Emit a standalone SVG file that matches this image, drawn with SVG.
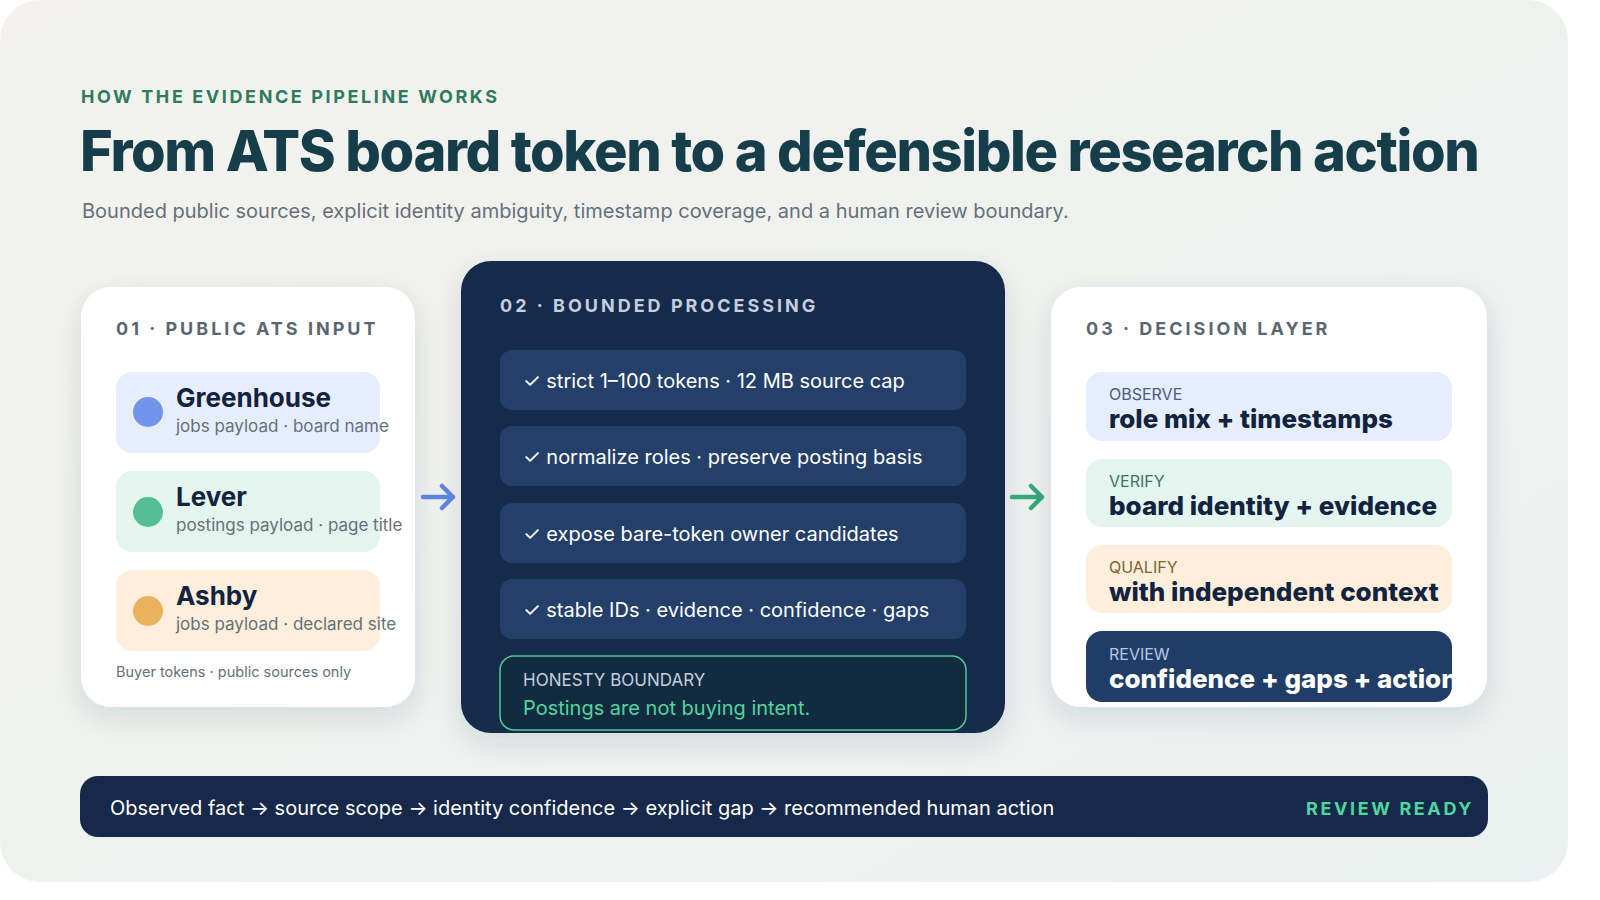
<svg xmlns="http://www.w3.org/2000/svg" width="1600" height="900" viewBox="0 0 1600 900">
<defs>
<linearGradient id="bg" x1="0" y1="0" x2="1" y2="1"><stop offset="0" stop-color="#f3f2ee"/><stop offset="1" stop-color="#ebf1f0"/></linearGradient>
<filter id="sh" x="-20%" y="-20%" width="140%" height="140%"><feDropShadow dx="0" dy="10" stdDeviation="14" flood-color="#1b2d45" flood-opacity="0.12"/></filter>
<clipPath id="c3"><rect x="1051" y="287" width="436" height="420" rx="30"/></clipPath>
</defs>
<style>
text{font-family:Inter,"Noto Sans","Liberation Sans",sans-serif}
.hd{font-size:18px;font-weight:700;letter-spacing:3px;fill:#5b6770}
.nm{font-size:26px;font-weight:700;fill:#12233f}
.sb{font-size:17px;fill:#66707a}
.pr{font-size:20px;fill:#ffffff}
.tg{font-size:16px}
.bd{font-size:26px;font-weight:800;fill:#12233f}
</style>
<rect x="0" y="0" width="1568" height="882" rx="40" fill="url(#bg)"/>
<text x="81" y="103" font-size="18" font-weight="700" letter-spacing="2.6" fill="#2f7b5f">HOW THE EVIDENCE PIPELINE WORKS</text>
<text x="80" y="171" font-size="56" font-weight="800" letter-spacing="-1.4" fill="#163d4a">From ATS board token to a defensible research action</text>
<text x="82" y="218" font-size="20" fill="#66707a">Bounded public sources, explicit identity ambiguity, timestamp coverage, and a human review boundary.</text>

<g id="card1">
<rect x="81" y="287" width="334" height="420" rx="30" fill="#ffffff" filter="url(#sh)"/>
<text x="116" y="335" class="hd">01 · PUBLIC ATS INPUT</text>
</g>
<g id="greenhouse"><rect x="116" y="372" width="264" height="81" rx="16" fill="#e6edfd"/><circle cx="148" cy="412" r="15" fill="#7394ec"/><text x="176" y="407" class="nm">Greenhouse</text><text x="176" y="432" class="sb">jobs payload · board name</text></g>
<g id="lever"><rect x="116" y="471" width="264" height="81" rx="16" fill="#e3f5ee"/><circle cx="148" cy="512" r="15" fill="#52c093"/><text x="176" y="506" class="nm">Lever</text><text x="176" y="531" class="sb">postings payload · page title</text></g>
<g id="ashby"><rect x="116" y="570" width="264" height="81" rx="16" fill="#fdefdb"/><circle cx="148" cy="611" r="15" fill="#ebb25d"/><text x="176" y="605" class="nm">Ashby</text><text x="176" y="630" class="sb">jobs payload · declared site</text></g>
<text x="116" y="677" font-size="14.5" fill="#66707a">Buyer tokens · public sources only</text>

<g id="card2">
<rect x="461" y="261" width="544" height="472" rx="30" fill="#16294a" filter="url(#sh)"/>
<text x="500" y="312" class="hd" style="fill:#c3cfe0">02 · BOUNDED PROCESSING</text>
<rect x="500" y="350" width="466" height="60" rx="12" fill="#24406a"/><text x="523" y="388" class="pr">✓ strict 1–100 tokens · 12 MB source cap</text>
<rect x="500" y="426" width="466" height="60" rx="12" fill="#24406a"/><text x="523" y="464" class="pr">✓ normalize roles · preserve posting basis</text>
<rect x="500" y="503" width="466" height="60" rx="12" fill="#24406a"/><text x="523" y="541" class="pr">✓ expose bare-token owner candidates</text>
<rect x="500" y="579" width="466" height="60" rx="12" fill="#24406a"/><text x="523" y="617" class="pr">✓ stable IDs · evidence · confidence · gaps</text>
<rect x="500" y="656" width="466" height="74" rx="14" fill="#132b3f" stroke="#4cc99a" stroke-width="1.5"/>
<text x="523" y="686" font-size="17" fill="#c3cfe0">HONESTY BOUNDARY</text>
<text x="523" y="715" font-size="20" fill="#4fd6a0">Postings are not buying intent.</text>
</g>

<g id="connectors" fill="none" stroke-width="4.5" stroke-linecap="round" stroke-linejoin="round">
<path d="M423 497H453M442 486L453 497L442 508" stroke="#5b84e2"/>
<path d="M1012 497H1042M1031 486L1042 497L1031 508" stroke="#33a97b"/>
</g>

<g id="card3">
<rect x="1051" y="287" width="436" height="420" rx="30" fill="#ffffff" filter="url(#sh)"/>
<text x="1086" y="335" class="hd">03 · DECISION LAYER</text>
<g clip-path="url(#c3)">
<rect x="1086" y="372" width="366" height="69" rx="16" fill="#e6edfd"/><text x="1109" y="400" class="tg" fill="#4d5c82">OBSERVE</text><text x="1109" y="428" class="bd">role mix + timestamps</text>
<rect x="1086" y="459" width="366" height="68" rx="16" fill="#e3f5ee"/><text x="1109" y="487" class="tg" fill="#3f7460">VERIFY</text><text x="1109" y="515" class="bd">board identity + evidence</text>
<rect x="1086" y="545" width="366" height="68" rx="16" fill="#fdefdb"/><text x="1109" y="573" class="tg" fill="#7c6235">QUALIFY</text><text x="1109" y="601" class="bd">with independent context</text>
<rect x="1086" y="631" width="366" height="71" rx="16" fill="#1f3d66"/><text x="1109" y="660" class="tg" fill="#b7c8e6">REVIEW</text><text x="1109" y="688" class="bd" style="fill:#ffffff">confidence + gaps + action</text>
</g>
</g>

<g id="footer">
<rect x="80" y="776" width="1408" height="61" rx="18" fill="#16294a"/>
<text x="110" y="815" font-size="20" fill="#ffffff">Observed fact → source scope → identity confidence → explicit gap → recommended human action</text>
<text x="1474" y="815" text-anchor="end" font-size="18" font-weight="700" letter-spacing="2.6" fill="#4fd6a0">REVIEW READY</text>
</g>
</svg>
